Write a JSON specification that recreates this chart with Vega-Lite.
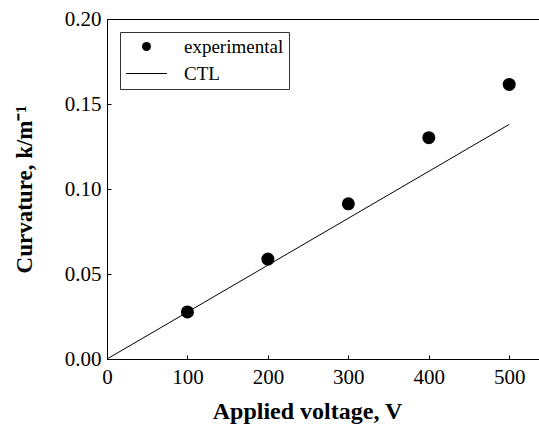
{
  "$schema": "https://vega.github.io/schema/vega-lite/v6.json",
  "width": 432,
  "height": 340,
  "autosize": {"type": "none"},
  "padding": {"left": 107, "top": 19, "right": 0, "bottom": 66},
  "background": "white",
  "config": {
    "view": {"stroke": "black", "strokeWidth": 1},
    "font": "Liberation Serif",
    "axis": {
      "domainColor": "black",
      "tickColor": "black",
      "grid": false,
      "labelFont": "Liberation Serif",
      "labelFontSize": 21,
      "labelColor": "black",
      "labelFlush": false,
      "labelOverlap": false,
      "titleFont": "Liberation Serif",
      "titleFontWeight": "bold",
      "titleColor": "black",
      "tickSize": -4
    }
  },
  "datasets": {
    "experimental": [
      {"voltage": 100, "curvature": 0.0277, "series": "experimental"},
      {"voltage": 200, "curvature": 0.0588, "series": "experimental"},
      {"voltage": 300, "curvature": 0.0913, "series": "experimental"},
      {"voltage": 400, "curvature": 0.1302, "series": "experimental"},
      {"voltage": 500, "curvature": 0.1615, "series": "experimental"}
    ],
    "ctl": [
      {"voltage": 0, "curvature": 0, "series": "CTL"},
      {"voltage": 500, "curvature": 0.138, "series": "CTL"}
    ]
  },
  "layer": [
    {
      "data": {"name": "ctl"},
      "mark": {"type": "line", "color": "black", "strokeWidth": 1},
      "encoding": {
        "x": {
          "field": "voltage", "type": "quantitative",
          "scale": {"domain": [0, 537], "nice": false},
          "axis": {"values": [0, 100, 200, 300, 400, 500], "title": "Applied voltage, V", "titleFontSize": 24, "labelPadding": 11, "titlePadding": 12, "titleX": 200}
        },
        "y": {
          "field": "curvature", "type": "quantitative",
          "scale": {"domain": [0, 0.2], "nice": false},
          "axis": {"values": [0, 0.05, 0.1, 0.15, 0.2], "format": ".2f", "title": "Curvature, k/m⁻¹", "titleFontSize": 23, "labelPadding": 10, "titlePadding": 28}
        }
      }
    },
    {
      "data": {"name": "experimental"},
      "mark": {"type": "point", "filled": true, "color": "black", "opacity": 1, "size": 170},
      "encoding": {
        "x": {"field": "voltage", "type": "quantitative"},
        "y": {"field": "curvature", "type": "quantitative"},
        "shape": {
          "field": "series", "type": "nominal",
          "scale": {"domain": ["experimental", "CTL"], "range": ["circle", "M-4.56,-0.12L4.56,-0.12L4.56,0.12L-4.56,0.12Z"]},
          "legend": {
            "title": null,
            "orient": "none",
            "legendX": 13,
            "legendY": 13,
            "strokeColor": "#333",
            "padding": 5,
            "labelFont": "Liberation Serif",
            "labelFontSize": 19,
            "labelColor": "black",
            "symbolSize": 81,
            "symbolOffset": 12,
            "symbolFillColor": "black",
            "rowPadding": 7,
            "labelOffset": 28
          }
        }
      }
    }
  ]
}
